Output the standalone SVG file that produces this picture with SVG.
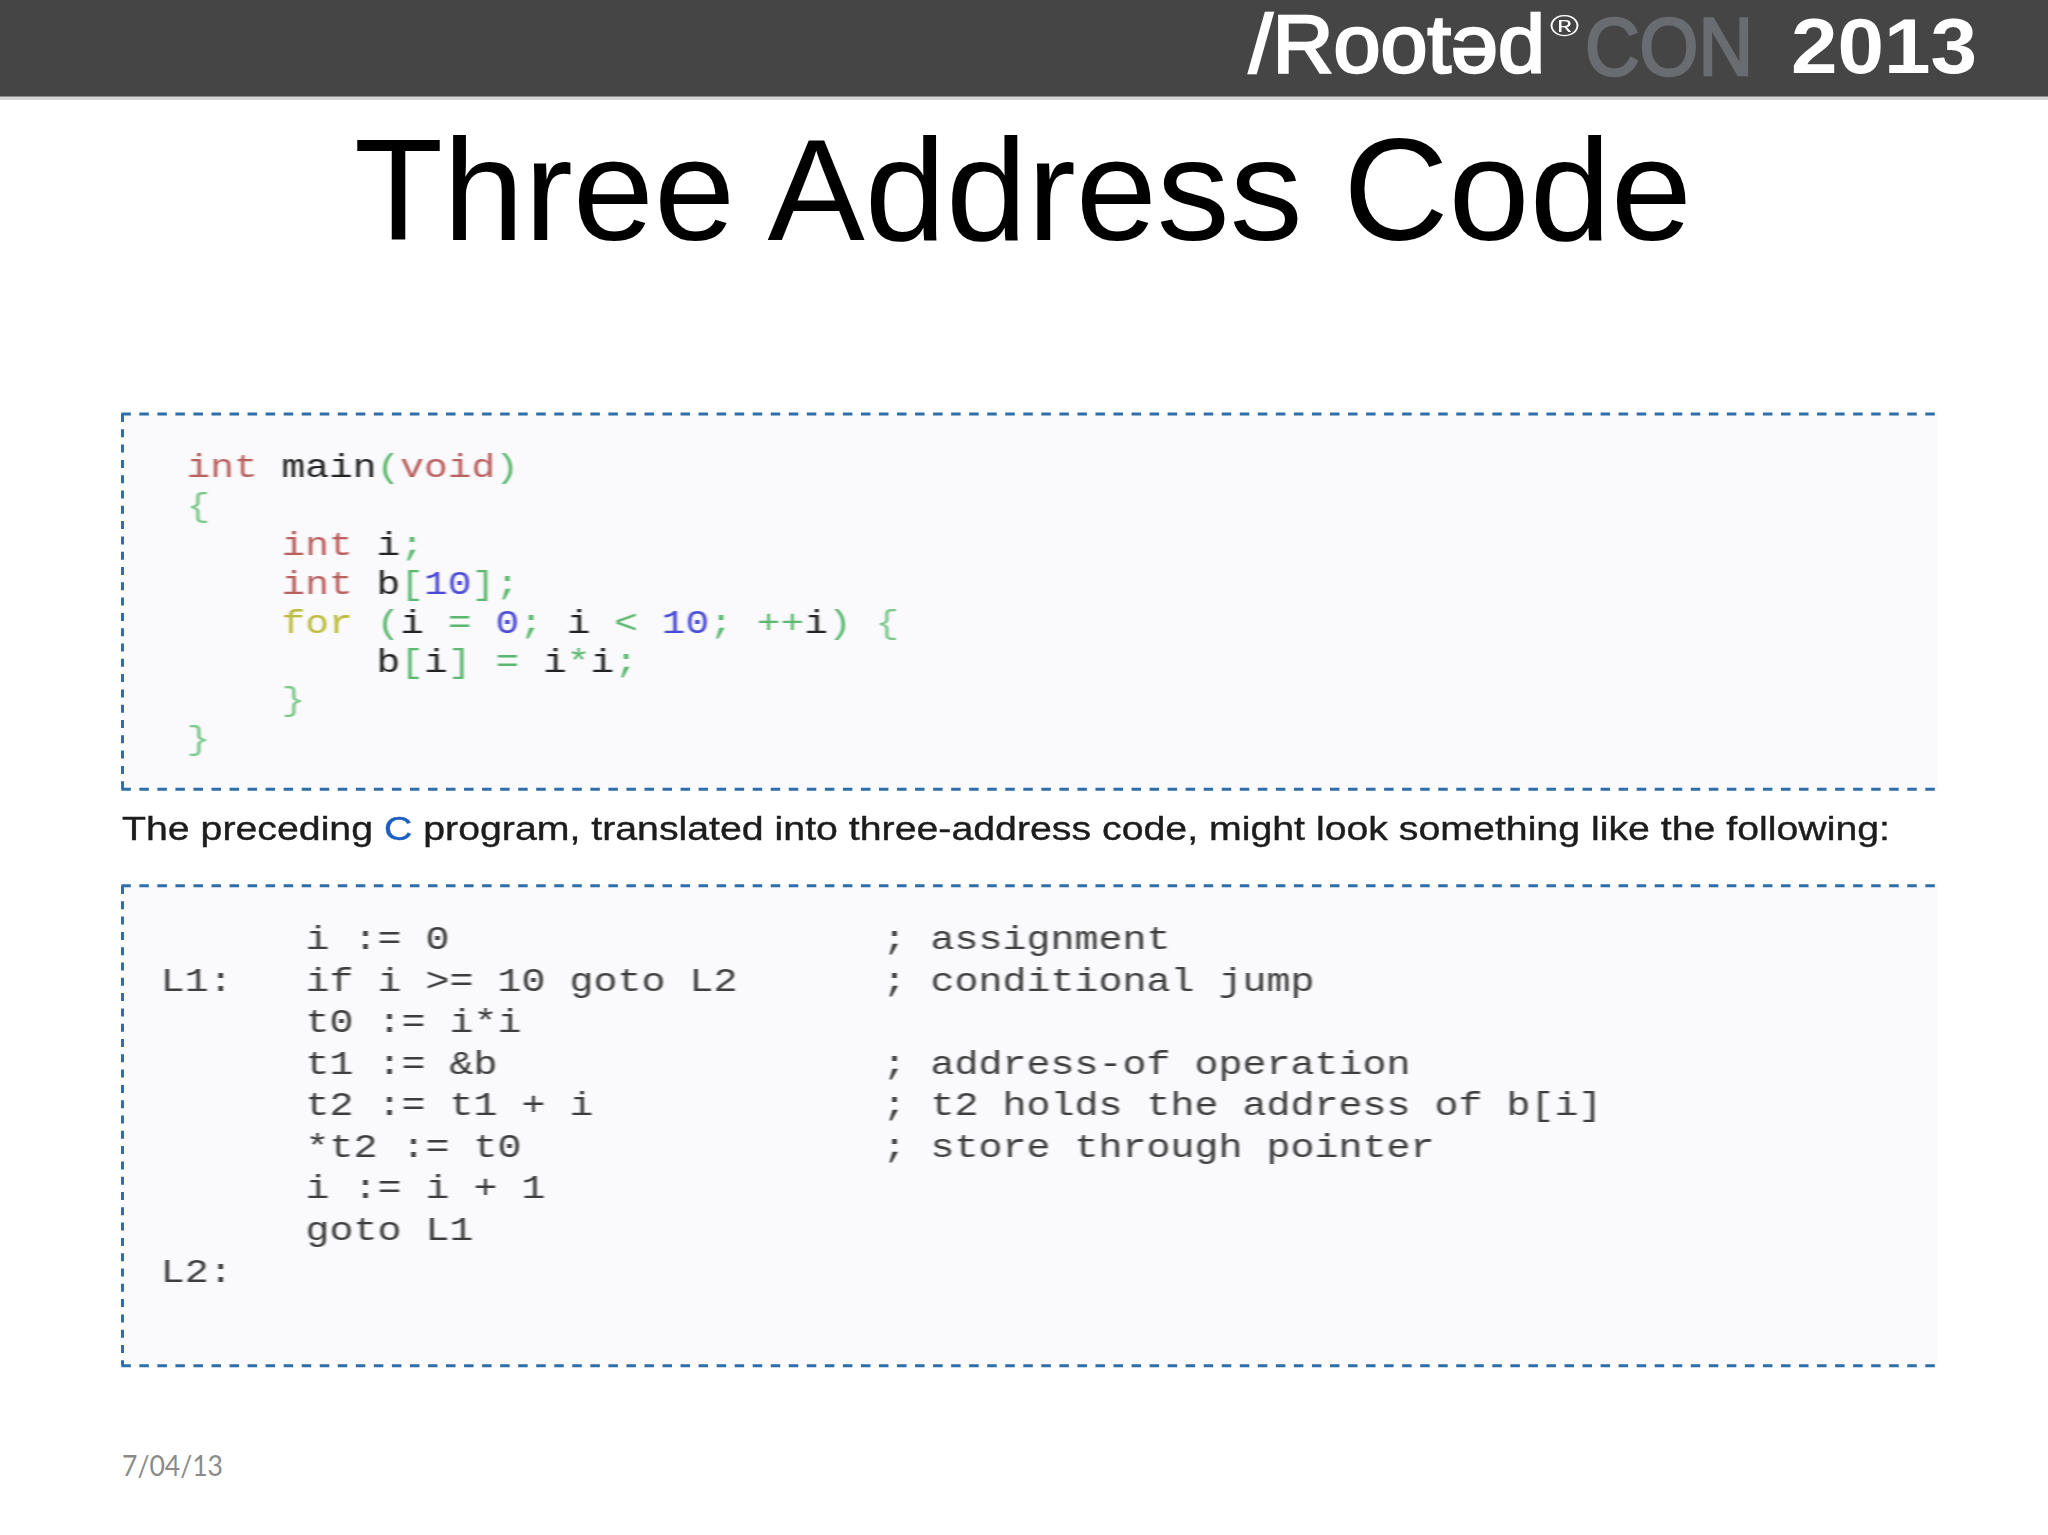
<svg xmlns="http://www.w3.org/2000/svg" width="2048" height="1535" viewBox="0 0 2048 1535">
<defs>
<filter id="soft" x="-5%" y="-5%" width="110%" height="110%"><feGaussianBlur stdDeviation="0.75"/></filter>
<filter id="softer" x="-2%" y="-20%" width="104%" height="140%"><feGaussianBlur stdDeviation="0.5"/></filter>
<filter id="logo" x="-5%" y="-20%" width="110%" height="140%"><feGaussianBlur stdDeviation="0.7"/></filter>
</defs>
<style>
.mono{font-family:"Liberation Mono","DejaVu Sans Mono",monospace;font-size:33px;white-space:pre;fill:#3c3c3c}
.k{fill:#b9605f}.g{fill:#5cb870}.n{fill:#4a4ad6}.y{fill:#bcbc3c}.d{fill:#222222}
.thin{fill:#7cc98c}
.box{fill:#faf9fb}
.dash{fill:none;stroke:#2f6ea8;stroke-width:3}
.h{stroke-dasharray:9.5 8.54}
.v{stroke-dasharray:8 7.3}
.sans{font-family:"Liberation Sans",Arial,sans-serif}
</style>
<rect width="2048" height="1535" fill="#ffffff"/>
<g id="header">
<rect x="0" y="0" width="2048" height="100" fill="#d4d4d4"/>
<rect x="0" y="0" width="2048" height="96.5" fill="#454545"/>
<g filter="url(#logo)">
<text class="sans" x="1249" y="72" font-size="82" fill="#ffffff" stroke="#ffffff" stroke-width="2.6" textLength="296" lengthAdjust="spacingAndGlyphs">/Rootəd</text>
<text class="sans" x="1550" y="36" font-size="30" fill="#ffffff" textLength="29" lengthAdjust="spacingAndGlyphs">®</text>
<text class="sans" x="1585" y="75" font-size="82" fill="#696c70" stroke="#696c70" stroke-width="2.6" textLength="168" lengthAdjust="spacingAndGlyphs">CON</text>
<text class="sans" x="1791" y="73" font-weight="700" font-size="78" fill="#ffffff" textLength="186" lengthAdjust="spacingAndGlyphs">2013</text>
</g>
</g>
<text id="title" class="sans" x="354" y="240" font-size="145" fill="#000000" textLength="1338" lengthAdjust="spacingAndGlyphs">Three Address Code</text>
<g id="code-c">
<rect class="box" x="122" y="413.5" width="1816" height="375.5"/>
<path class="dash h" d="M121.3 414H1936M121.3 789.3H1936"/>
<path class="dash v" d="M122.5 414V789"/>
<g filter="url(#soft)" transform="translate(186.5 0) scale(1.2 1)">
<text class="mono" x="0" y="477"><tspan class="k">int</tspan> <tspan class="d">main</tspan><tspan class="g">(</tspan><tspan class="k">void</tspan><tspan class="g">)</tspan></text>
<text class="mono thin" x="0" y="516">{</text>
<text class="mono" x="0" y="555">    <tspan class="k">int</tspan> <tspan class="d">i</tspan><tspan class="g">;</tspan></text>
<text class="mono" x="0" y="594">    <tspan class="k">int</tspan> <tspan class="d">b</tspan><tspan class="g">[</tspan><tspan class="n">10</tspan><tspan class="g">];</tspan></text>
<text class="mono" x="0" y="633">    <tspan class="y">for</tspan> <tspan class="g">(</tspan><tspan class="d">i</tspan> <tspan class="g">=</tspan> <tspan class="n">0</tspan><tspan class="g">;</tspan> <tspan class="d">i</tspan> <tspan class="g">&lt;</tspan> <tspan class="n">10</tspan><tspan class="g">;</tspan> <tspan class="g">++</tspan><tspan class="d">i</tspan><tspan class="g">)</tspan> <tspan class="thin">{</tspan></text>
<text class="mono" x="0" y="672">        <tspan class="d">b</tspan><tspan class="g">[</tspan><tspan class="d">i</tspan><tspan class="g">]</tspan> <tspan class="g">=</tspan> <tspan class="d">i</tspan><tspan class="g">*</tspan><tspan class="d">i</tspan><tspan class="g">;</tspan></text>
<text class="mono thin" x="0" y="710">    }</text>
<text class="mono thin" x="0" y="749">}</text>
</g>
</g>
<text id="caption" class="sans" x="122" y="840" font-size="33" fill="#1c1c1c" stroke="#1c1c1c" stroke-width="0.4" filter="url(#softer)" textLength="1768" lengthAdjust="spacingAndGlyphs">The preceding <tspan fill="#1f5fc0" stroke="#1f5fc0">C</tspan> program, translated into three-address code, might look something like the following:</text>
<g id="code-tac">
<rect class="box" x="122" y="885.5" width="1816" height="480"/>
<path class="dash h" d="M121.3 885.7H1936M121.3 1365.7H1936"/>
<path class="dash v" d="M122.5 886V1365"/>
<g filter="url(#soft)" transform="translate(160.8 0) scale(1.212 1)">
<text class="mono" x="0" y="991">L1:</text>
<text class="mono" x="0" y="1282">L2:</text>
</g>
<g filter="url(#soft)" transform="translate(305.5 0) scale(1.212 1)">
<text class="mono" x="0" y="949">i := 0</text>
<text class="mono" x="0" y="991">if i &gt;= 10 goto L2</text>
<text class="mono" x="0" y="1032">t0 := i*i</text>
<text class="mono" x="0" y="1074">t1 := &amp;b</text>
<text class="mono" x="0" y="1115">t2 := t1 + i</text>
<text class="mono" x="0" y="1157">*t2 := t0</text>
<text class="mono" x="0" y="1198">i := i + 1</text>
<text class="mono" x="0" y="1240">goto L1</text>
</g>
<g filter="url(#soft)" transform="translate(882.5 0) scale(1.212 1)">
<text class="mono" x="0" y="949">; assignment</text>
<text class="mono" x="0" y="991">; conditional jump</text>
<text class="mono" x="0" y="1074">; address-of operation</text>
<text class="mono" x="0" y="1115">; t2 holds the address of b[i]</text>
<text class="mono" x="0" y="1157">; store through pointer</text>
</g>
</g>
<text id="date" x="122" y="1476" font-family="Lato,'Open Sans',sans-serif" font-size="29" fill="#8b8b8b" textLength="101" lengthAdjust="spacingAndGlyphs">7/04/13</text>
</svg>
